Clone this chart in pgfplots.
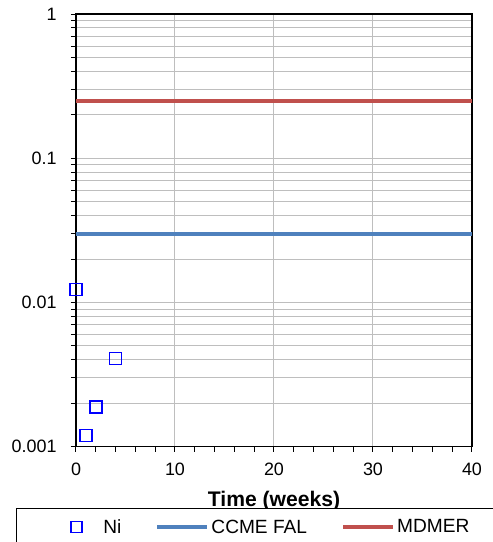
\documentclass[border=0pt]{standalone}
\usepackage{fontspec}
\setmainfont{Liberation Sans}
\usepackage{pgfplots}
\pgfplotsset{compat=1.18}
\definecolor{ccme}{RGB}{79,129,189}
\definecolor{mdmer}{RGB}{192,80,77}
\definecolor{gridgray}{RGB}{190,190,190}
\pgfplotsset{
  wideline legend/.style={legend image code/.code={\draw[mark repeat=2,mark phase=2,##1] plot coordinates {(0bp,0bp)(25bp,0bp)(50bp,0bp)};}},
  centermark legend/.style={legend image code/.code={\path[draw=none] (0bp,0bp) -- (50bp,0bp); \draw[##1, mark size=5.5bp] plot coordinates {(25bp,0bp)};}},
}
\begin{document}
\begin{tikzpicture}
\path[use as bounding box] (-76bp,-95.3bp) rectangle (417bp,446.7bp);
\begin{axis}[
  at={(0,0)}, anchor=south west,
  scale only axis, width=396bp, height=432.7bp,
  ymode=log, xmin=0, xmax=40, ymin=0.001, ymax=1,
  xtick={0,10,20,30,40}, xticklabels={0,10,20,30,40},
  minor x tick num=4,
  ytick={0.001,0.01,0.1,1}, yticklabels={0.001,0.01,0.1,1},
  xtick pos=bottom, ytick pos=left,
  tick align=outside, major tick length=5bp, minor tick length=5bp,
  tick style={black, line width=1bp},
  xmajorgrids, ymajorgrids, yminorgrids,
  major grid style={gridgray, line width=1bp},
  minor grid style={gridgray, line width=1bp},
  axis line style={black, line width=1.5bp},
  ticklabel style={font=\fontsize{18}{20}\selectfont},
  xticklabel shift=8bp, yticklabel shift=11bp,
  xlabel={\bfseries Time (weeks)},
  xlabel style={font=\fontsize{21.2}{23}\selectfont, yshift=-8bp},
  clip=false,
  legend columns=3,
  wideline legend,
  legend style={at={(axis description cs:-0.1515,-0.1417)}, anchor=north west,
    draw=black, line width=0.8bp, inner xsep=35bp, inner ysep=9bp,
    font=\fontsize{19.2}{21}\selectfont,
    /tikz/every even column/.append style={column sep=32bp}},
]
\addplot[only marks, mark=square, mark size=6bp, blue, mark options={line width=1.5bp},
  centermark legend]
  coordinates {(0,0.0123) (1,0.0012) (2,0.00189) (4,0.0041)};
\addlegendentry{Ni}
\addplot[ccme, line width=4bp] coordinates {(0,0.03) (40,0.03)};
\addlegendentry{CCME FAL}
\addplot[mdmer, line width=4bp] coordinates {(0,0.25) (40,0.25)};
\addlegendentry{MDMER\hspace*{20bp}}
\end{axis}
\end{tikzpicture}
\end{document}
